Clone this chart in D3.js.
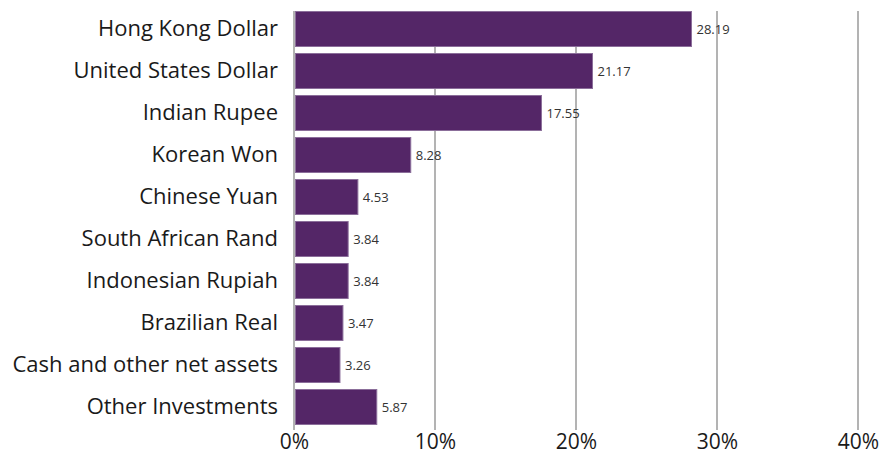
<!DOCTYPE html>
<html>
<head>
<meta charset="utf-8">
<script src="https://cdn.jsdelivr.net/npm/d3@7"></script>
<style>
  html, body { margin: 0; padding: 0; background: #fff; }
  svg { display: block; font-family: "Open Sans", "Noto Sans", sans-serif; }
</style>
</head>
<body>
<svg id="chart" width="881" height="455"></svg>
<script>
// Currency exposure, percent of portfolio
const categories = [
  "Hong Kong Dollar",
  "United States Dollar",
  "Indian Rupee",
  "Korean Won",
  "Chinese Yuan",
  "South African Rand",
  "Indonesian Rupiah",
  "Brazilian Real",
  "Cash and other net assets",
  "Other Investments"
];
const values = [28.19, 21.17, 17.55, 8.28, 4.53, 3.84, 3.84, 3.47, 3.26, 5.87];
const tickValues = [0, 10, 20, 30, 40];

const svg = d3.select("#chart");
const plot = { left: 294, right: 858, top: 11, bottom: 425, gridBottom: 430 };

const x = d3.scaleLinear().domain([0, 40]).range([plot.left, plot.right]);
const y = d3.scaleBand().domain(categories).range([plot.top, plot.bottom]).paddingInner(0.143).paddingOuter(0);

// vertical gridlines
svg.append("g")
  .selectAll("line")
  .data(tickValues)
  .join("line")
  .attr("x1", d => x(d)).attr("x2", d => x(d))
  .attr("y1", plot.top).attr("y2", plot.gridBottom)
  .attr("stroke", "#b3b3b3")
  .attr("stroke-width", 2);

// bars
svg.append("g")
  .selectAll("rect")
  .data(values)
  .join("rect")
  .attr("x", x(0) + 1.5)
  .attr("y", (d, i) => y(categories[i]) + 0.5)
  .attr("width", d => x(d) - x(0) - 1.5)
  .attr("height", y.bandwidth() - 1)
  .attr("fill", "#542667")
  .attr("stroke", "#8b6e9a")
  .attr("stroke-width", 1);

// value labels
svg.append("g")
  .selectAll("text")
  .data(values)
  .join("text")
  .attr("x", d => x(d) + 5)
  .attr("y", (d, i) => y(categories[i]) + y.bandwidth() / 2)
  .attr("dy", "0.35em")
  .attr("font-size", 13)
  .attr("fill", "#333")
  .text(d => d.toFixed(2));

// category axis
const yAxis = d3.axisLeft(y).tickSize(0).tickPadding(16);
svg.append("g")
  .attr("transform", `translate(${plot.left},0)`)
  .call(yAxis)
  .call(g => g.select(".domain").remove())
  .call(g => g.selectAll("text").attr("font-size", 22).attr("fill", "#1a1a1a").attr("font-family", "'Open Sans', 'Noto Sans', sans-serif"));

// percent axis
const xAxis = d3.axisBottom(x).tickValues(tickValues).tickSize(0).tickFormat(d => d + "%");
svg.append("g")
  .attr("transform", `translate(0,${plot.gridBottom})`)
  .call(xAxis)
  .call(g => g.select(".domain").remove())
  .call(g => g.selectAll("text")
    .attr("y", 18.5).attr("dy", null)
    .attr("font-size", 21).attr("fill", "#1a1a1a")
    .attr("font-family", "'Open Sans', 'Noto Sans', sans-serif"));
</script>
</body>
</html>
